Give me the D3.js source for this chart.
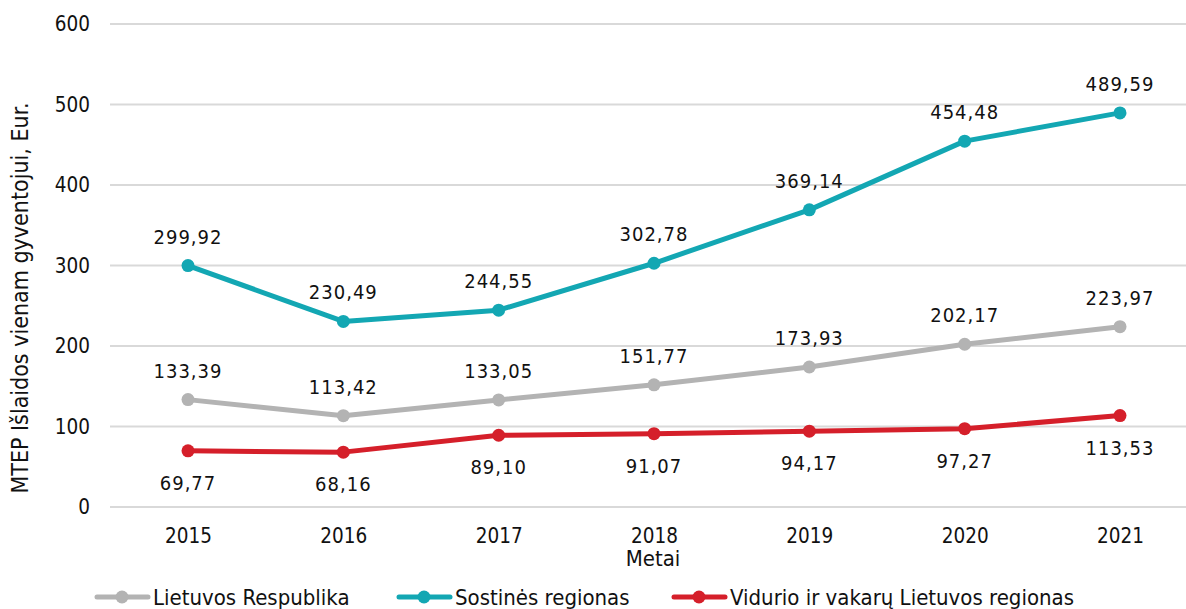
<!DOCTYPE html>
<html lang="lt">
<head>
<meta charset="UTF-8">
<title>MTEP išlaidos</title>
<script src="https://d3js.org/d3.v7.min.js"></script>
<style>
    body { margin: 0; background: #fff; }
    svg { display: block; }
    text { font-family: "DejaVu Sans Condensed", "DejaVu Sans", sans-serif; fill: #111; }
    .tick text { font-size: 20.5px; }
    .lbl { font-size: 20px; letter-spacing: 1px; }
</style>
</head>
<body>
<svg width="1186" height="609"></svg>
<script>
    var years = ["2015", "2016", "2017", "2018", "2019", "2020", "2021"];
    var lietuva = [133.39, 113.42, 133.05, 151.77, 173.93, 202.17, 223.97];
    var sostine = [299.92, 230.49, 244.55, 302.78, 369.14, 454.48, 489.59];
    var vidurio = [69.77, 68.16, 89.10, 91.07, 94.17, 97.27, 113.53];
    var yTicks = [0, 100, 200, 300, 400, 500, 600];

    var series = [
        { name: "Lietuvos Respublika", values: lietuva, color: "#b3b3b3", below: false },
        { name: "Sostinės regionas", values: sostine, color: "#13a7b3", below: false },
        { name: "Vidurio ir vakarų Lietuvos regionas", values: vidurio, color: "#d51f2a", below: true }
    ];

    var svg = d3.select("svg");
    var x = d3.scalePoint().domain(years).range([188, 1120]);
    var y = d3.scaleLinear().domain([0, 600]).range([507, 24]);

    // gridlines
    svg.append("g").selectAll("line").data(yTicks).enter().append("line")
        .attr("x1", 110).attr("x2", 1197)
        .attr("y1", d => y(d)).attr("y2", d => y(d))
        .attr("stroke", "#d9d9d9").attr("stroke-width", 2);

    var yAxis = d3.axisLeft(y).tickValues(yTicks).tickSize(0).tickPadding(0);
    svg.append("g").attr("transform", "translate(90,0)").call(yAxis)
        .call(g => g.select(".domain").remove());

    var xAxis = d3.axisBottom(x).tickSize(0).tickPadding(0);
    svg.append("g").attr("transform", "translate(0,528)").call(xAxis)
        .call(g => g.select(".domain").remove());
    svg.selectAll(".tick text").attr("fill", "#111");

    svg.append("text").attr("x", 653).attr("y", 566)
        .attr("text-anchor", "middle").style("font-size", "22px").text("Metai");
    svg.append("text").attr("transform", "translate(28,298) rotate(-90)")
        .attr("text-anchor", "middle").style("font-size", "23px")
        .text("MTEP Išlaidos vienam gyventojui, Eur.");

    var line = d3.line().x((d, i) => x(years[i])).y(d => y(d));
    var fmt = d => d.toFixed(2).replace(".", ",");

    series.forEach(function (s) {
        var g = svg.append("g");
        g.append("path").datum(s.values).attr("d", line)
            .attr("fill", "none").attr("stroke", s.color).attr("stroke-width", 5)
            .attr("stroke-linejoin", "round");
        g.selectAll("circle").data(s.values).enter().append("circle")
            .attr("cx", (d, i) => x(years[i])).attr("cy", d => y(d))
            .attr("r", 6.5).attr("fill", s.color);
        g.selectAll("text").data(s.values).enter().append("text")
            .attr("class", "lbl")
            .attr("x", (d, i) => x(years[i]))
            .attr("y", d => y(d) + (s.below ? 39 : -22))
            .attr("text-anchor", "middle")
            .text(fmt);
    });

    // legend
    var legX = [95, 397, 672];
    var leg = svg.append("g").selectAll("g").data(series).enter().append("g")
        .attr("transform", (d, i) => "translate(" + legX[i] + ",597)");
    leg.append("line").attr("x1", 2).attr("x2", 53).attr("y1", 0).attr("y2", 0)
        .attr("stroke", d => d.color).attr("stroke-width", 5).attr("stroke-linecap", "round");
    leg.append("circle").attr("cx", 27).attr("cy", 0).attr("r", 6.5).attr("fill", d => d.color);
    leg.append("text").attr("x", 58).attr("y", 8).style("font-size", "22px").text(d => d.name);
</script>
</body>
</html>
